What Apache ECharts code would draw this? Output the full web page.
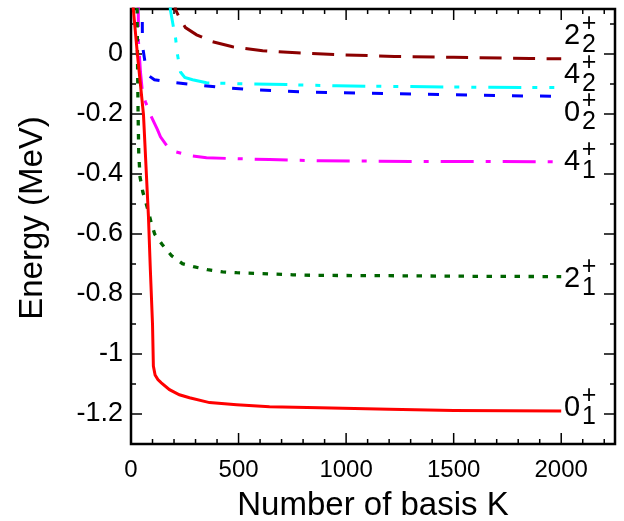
<!DOCTYPE html>
<html><head><meta charset="utf-8">
<script src="https://cdn.jsdelivr.net/npm/echarts@6/dist/echarts.min.js"></script>
<style>html,body{margin:0;padding:0;background:#fff}#c{width:624px;height:521px}</style>
</head><body><div id="c"></div>
<script>
// ---- data ----
const xTickLabels = [0, 500, 1000, 1500, 2000];
const yTickLabels = [-1.2, -1, -0.8, -0.6, -0.4, -0.2, 0];
const xMajorTicks = [0, 500, 1000, 1500, 2000];
const xMinorTicks = [100, 200, 300, 400, 600, 700, 800, 900, 1100, 1200, 1300, 1400, 1600, 1700, 1800, 1900, 2100, 2200];
const yMajorTicks = [-1.2, -1, -0.8, -0.6, -0.4, -0.2, 0];
const yMinorTicks = [-1.3, -1.1, -0.9, -0.7, -0.5, -0.3, -0.1, 0.1];

const state0p1 = [[5,0.2],[11,0.148],[30,-0.002],[44,-0.102],[58,-0.202],[81,-0.54],[90,-0.72],[100,-0.9],[104,-1.04],[112,-1.07],[125,-1.085],[141,-1.096],[179,-1.119],[225,-1.136],[272,-1.146],[365,-1.162],[491,-1.169],[644,-1.176],[877,-1.179],[1200,-1.184],[1500,-1.188],[2000,-1.19]];
const state2p1 = [[28,0.2],[30,0.0],[33,-0.2],[36,-0.33],[42,-0.41],[55,-0.46],[75,-0.51],[95,-0.565],[110,-0.6],[146,-0.636],[188,-0.672],[239,-0.699],[291,-0.709],[356,-0.719],[426,-0.726],[491,-0.729],[612,-0.732],[752,-0.736],[863,-0.738],[1200,-0.739],[1600,-0.741],[2000,-0.742]];
const state4p1 = [[33,0.2],[35,0.04],[44,-0.06],[53,-0.126],[67,-0.159],[90,-0.202],[123,-0.252],[137,-0.276],[170,-0.309],[207,-0.326],[277,-0.339],[351,-0.346],[491,-0.349],[644,-0.352],[877,-0.356],[1300,-0.358],[2000,-0.359]];
const state0p2 = [[52,0.2],[53,0.03],[67,-0.036],[76,-0.069],[109,-0.086],[165,-0.092],[291,-0.102],[426,-0.112],[566,-0.119],[830,-0.127],[956,-0.129],[1200,-0.132],[1500,-0.136],[1855,-0.14],[2000,-0.141]];
const state4p2 = [[181,0.2],[183,0.148],[197,0.091],[207,0.054],[216,-0.002],[230,-0.06],[250,-0.078],[286,-0.086],[351,-0.096],[505,-0.099],[723,-0.102],[956,-0.106],[1200,-0.108],[1670,-0.111],[2000,-0.112]];
const state2p2 = [[200,0.2],[207,0.148],[230,0.114],[253,0.088],[305,0.064],[379,0.041],[472,0.024],[612,0.011],[770,0.004],[956,-0.002],[1225,-0.008],[1500,-0.011],[1855,-0.015],[2000,-0.016]];

const stateMain = ['0', '2', '4', '0', '4', '2'];
const stateSub  = ['1', '1', '1', '2', '2', '2'];
const stateLabelE = [-1.179, -0.749, -0.359, -0.196, -0.069, 0.061];
const stateLabelK = 2050;

// ---- chart ----
const FONT = "'Liberation Sans', Arial, sans-serif";
const X_MIN = 0, X_MAX = 2250, Y_MIN = -1.3, Y_MAX = 0.15;
const chart = echarts.init(document.getElementById('c'));

function lineSeries(data, color, type, width) {
  return {type: 'line', data: data, showSymbol: false, symbol: 'none', clip: true, silent: true,
    lineStyle: {color: color, width: width, type: type, cap: 'butt', join: 'miter'}, z: 3};
}
const labelPoints = stateLabelE.map(e => [stateLabelK, e]);
function labelSeries(texts, size, offset) {
  return {type: 'scatter', data: labelPoints, symbolSize: 0.1, itemStyle: {color: '#fff', opacity: 1}, silent: true, z: 5,
    label: {show: true, position: 'inside', offset: offset, color: '#000', opacity: 1, fontFamily: FONT, fontSize: size,
      formatter: p => texts[p.dataIndex]}};
}
// tick marks on all four sides, placed through the axis scales
const tickData = [].concat(
  xMajorTicks.map(v => [v, 0]), xMinorTicks.map(v => [v, 1]),
  yMajorTicks.map(v => [v, 2]), yMinorTicks.map(v => [v, 3]));
function seg(x1, y1, x2, y2) {
  return {type: 'line', shape: {x1: x1, y1: y1, x2: x2, y2: y2}, style: {stroke: '#000', lineWidth: 1.5}};
}
const tickSeries = {
  type: 'custom', data: tickData, clip: false, silent: true, z: 2,
  encode: {x: 0, y: 1},
  renderItem: function (params, api) {
    const v = api.value(0), k = api.value(1);
    const len = (k === 0 || k === 2) ? 11 : 5;
    if (k < 2) {
      const b = api.coord([v, Y_MIN]), t = api.coord([v, Y_MAX]);
      return {type: 'group', children: [seg(b[0], b[1], b[0], b[1] - len), seg(t[0], t[1], t[0], t[1] + len)]};
    }
    const l = api.coord([X_MIN, v]), r = api.coord([X_MAX, v]);
    return {type: 'group', children: [seg(l[0], l[1], l[0] + len, l[1]), seg(r[0], r[1], r[0] - len, r[1])]};
  }
};

chart.setOption({
  animation: false,
  backgroundColor: '#fff',
  grid: {left: 131, right: 9, top: 9, bottom: 77, show: true, borderColor: '#000', borderWidth: 2.5,
    backgroundColor: 'transparent', containLabel: false, outerBoundsMode: 'none'},
  xAxis: {type: 'value', position: 'bottom', min: X_MIN, max: X_MAX, interval: 500,
    axisLine: {show: false, onZero: false}, axisTick: {show: false}, splitLine: {show: false},
    axisLabel: {show: true, margin: 14, color: '#000', fontFamily: FONT, fontSize: 24, showMaxLabel: false,
      formatter: v => xTickLabels.indexOf(v) >= 0 ? String(v) : ''}},
  yAxis: {type: 'value', position: 'left', min: Y_MIN, max: Y_MAX,
    axisLine: {show: false, onZero: false}, axisTick: {show: false}, splitLine: {show: false},
    axisLabel: {show: true, margin: 8, color: '#000', fontFamily: FONT, fontSize: 27, customValues: yTickLabels,
      formatter: v => String(Math.round(v * 10) / 10)}},
  graphic: [
    {type: 'text', x: 373, y: 506, silent: true,
     style: {text: 'Number of basis K', fill: '#000', font: "33px 'Liberation Sans', Arial, sans-serif",
       align: 'center', verticalAlign: 'middle', textAlign: 'center', textVerticalAlign: 'middle'}},
    {type: 'text', x: 33, y: 218, rotation: Math.PI / 2, silent: true,
     style: {text: 'Energy (MeV)', fill: '#000', font: "33px 'Liberation Sans', Arial, sans-serif",
       align: 'center', verticalAlign: 'middle', textAlign: 'center', textVerticalAlign: 'middle'}}
  ],
  series: [
    tickSeries,
    lineSeries(state2p2, '#8b0000', [22, 11.5], 3),
    lineSeries(state4p2, '#00ffff', [33, 11, 5, 12, 5, 12], 3),
    lineSeries(state0p2, '#0000ff', [11, 17], 3),
    lineSeries(state4p1, '#ff00ff', [33, 12, 5, 12], 3),
    lineSeries(state2p1, '#006400', [5.5, 8.5], 3.3),
    lineSeries(state0p1, '#ff0000', 'solid', 3),
    labelSeries(stateMain, 29, [0, 0]),
    labelSeries(stateMain.map(() => '+'), 25, [17, -12]),
    labelSeries(stateSub, 25, [17, 9])
  ]
});
</script>
</body></html>
